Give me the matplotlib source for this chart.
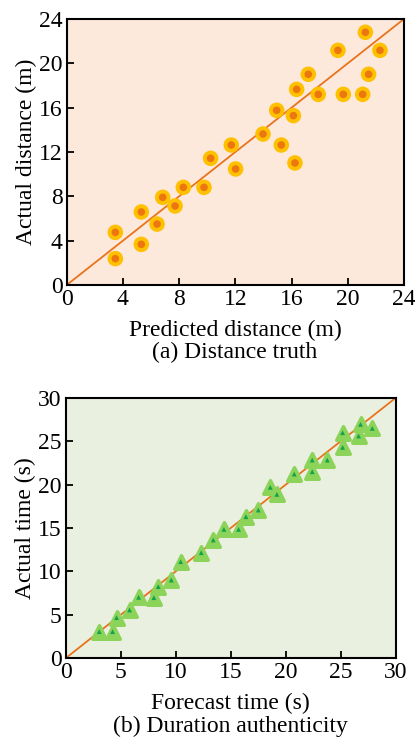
import matplotlib
matplotlib.use("Agg")
import matplotlib.pyplot as plt

plt.rcParams['font.family'] = ['Liberation Serif', 'DejaVu Serif']
plt.rcParams['mathtext.fontset'] = 'stix'

# (a) distance: predicted vs actual (m)
dist_pred = [3.46, 3.46, 5.31, 5.31, 6.43, 6.83, 7.71, 8.30, 9.77, 10.24, 11.71, 12.02, 13.97,
             14.94, 15.27, 16.13, 16.24, 16.36, 17.19, 17.90, 19.30, 19.68, 21.06, 21.25, 21.48, 22.29]
dist_true = [4.75, 2.38, 6.59, 3.67, 5.50, 7.91, 7.13, 8.81, 8.81, 11.43, 12.63, 10.47, 13.62,
             15.76, 12.63, 15.28, 11.01, 17.65, 19.01, 17.20, 21.17, 17.20, 17.20, 22.80, 19.01, 21.17]
dist_ticks = [0, 4, 8, 12, 16, 20, 24]

# (b) duration: forecast vs actual (s)
time_pred = [3.06, 4.27, 4.63, 5.81, 6.63, 8.02, 8.42, 9.60, 10.45, 12.32, 13.41, 14.38, 15.71,
             16.38, 17.50, 18.59, 19.19, 20.77, 22.40, 22.40, 23.77, 25.16, 25.16, 26.61, 26.79, 27.85]
time_true = [3.07, 3.07, 4.68, 5.56, 7.02, 6.98, 8.25, 9.01, 11.12, 12.16, 13.62, 14.84, 14.84,
             16.30, 17.07, 19.68, 18.87, 21.21, 22.82, 21.48, 22.82, 24.28, 25.97, 25.59, 26.93, 26.47]
time_ticks = [0, 5, 10, 15, 20, 25, 30]

line_c = '#E8731C'
fs = 17

fig = plt.figure(figsize=(4.15, 7.38), dpi=100)
ax1 = fig.add_axes([0.1607, 0.6138, 0.8128, 0.3605])
ax2 = fig.add_axes([0.158, 0.108, 0.796, 0.3531])


def style(ax, ticks, xlabel, ylabel, bg):
    ax.set_facecolor(bg)
    ax.set_xlim(ticks[0], ticks[-1])
    ax.set_ylim(ticks[0], ticks[-1])
    ax.set_xticks(ticks)
    ax.set_yticks(ticks)
    ax.tick_params(direction='in', length=5, width=1.3, labelsize=fs, pad=3)
    for s in ax.spines.values():
        s.set_linewidth(1.5)
    ax.set_xlabel(xlabel, fontsize=fs, labelpad=7)
    ax.set_ylabel(ylabel, fontsize=fs, labelpad=1)
    ax.plot(ticks[::len(ticks) - 1], ticks[::len(ticks) - 1], color=line_c, lw=1.3, zorder=2)


style(ax1, dist_ticks, 'Predicted distance (m)', 'Actual distance (m)', '#FCE9DC')
ax1.scatter(dist_pred, dist_true, s=125, color='#FFC000', edgecolors='none', zorder=3)
ax1.scatter(dist_pred, dist_true, s=30, color='#EC7711', edgecolors='none', zorder=4)

style(ax2, time_ticks, 'Forecast time (s)', 'Actual time (s)', '#EAF0DF')
ax2.scatter(time_pred, time_true, s=95, marker='^', color='#8CD35A', edgecolors='#8CD35A',
            linewidths=2.5, zorder=3)
ax2.scatter(time_pred, time_true, s=12, marker='^', color='#13A34A', edgecolors='none', zorder=4)

fig.text(0.565, 0.523, '(a) Distance truth', ha='center', va='center', fontsize=fs)
fig.text(0.556, 0.016, '(b) Duration authenticity', ha='center', va='center', fontsize=fs)

fig.savefig('out.png', dpi=100)
